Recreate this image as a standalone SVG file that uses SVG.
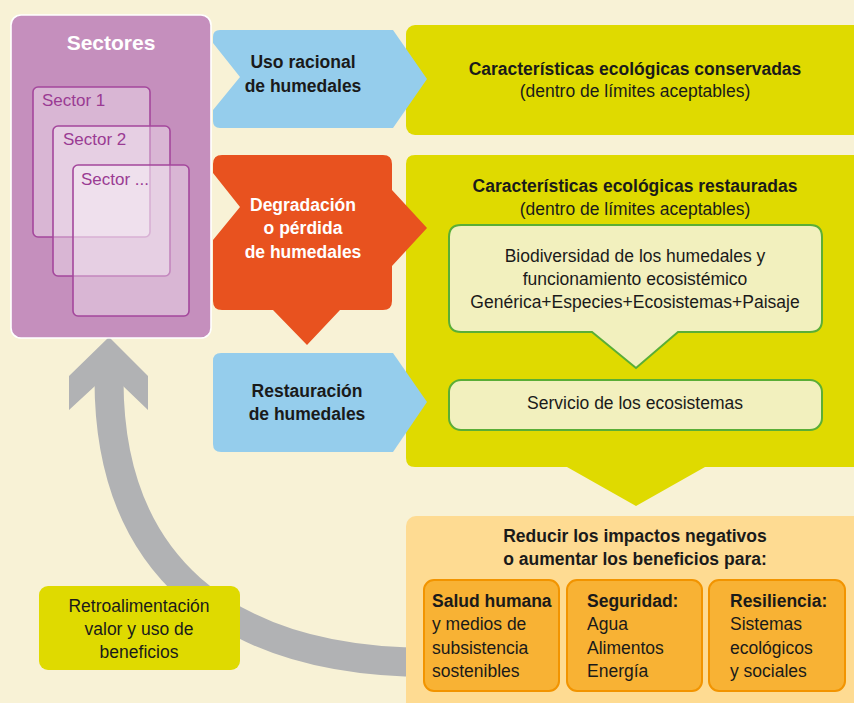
<svg xmlns="http://www.w3.org/2000/svg" width="854" height="703" viewBox="0 0 854 703">
<style>
text{font-family:"Liberation Sans",Arial,sans-serif;fill:#1a1a1a;font-size:17.5px}
.b{font-weight:bold}
.c{text-anchor:middle}
.sec{fill:#ffffff;fill-opacity:0.35;stroke:#A4479C;stroke-width:1.6}
.sect{fill:#9A3B93;font-size:17px}
.sub{fill:#F8B234;stroke:#F29400;stroke-width:2}
.inner{fill:#F2F0BE;stroke:#5AAE36;stroke-width:2}
.gr{fill:#DFDA00}
</style>
<rect x="0" y="0" width="854" height="703" fill="#F8F2D6"/>

<g id="connectors">
  <path d="M 109 380 C 109 560 220 662.5 430 662.5" fill="none" stroke="#B1B2B4" stroke-width="29"/>
  <polygon points="109,337 148,376 148,410 123,386 95,386 69,410 69,376" fill="#B1B2B4"/>
</g>

<g id="retroalimentacion">
  <rect x="39" y="586" width="201" height="84" rx="9" class="gr"/>
  <text x="139" y="612" class="c">Retroalimentación</text>
  <text x="139" y="635" class="c">valor y uso de</text>
  <text x="139" y="658" class="c">beneficios</text>
</g>

<g id="conservadas">
  <rect x="406" y="25" width="470" height="110" rx="9" class="gr"/>
  <text x="635" y="75" class="b c">Características ecológicas conservadas</text>
  <text x="635" y="97" class="c">(dentro de límites aceptables)</text>
</g>

<g id="restauradas">
  <path d="M 415 155 H 870 V 467 H 705 L 636 506 L 567 467 H 415 Q 406 467 406 458 V 164 Q 406 155 415 155 Z" class="gr"/>
  <text x="635" y="192" class="b c">Características ecológicas restauradas</text>
  <text x="635" y="215" class="c">(dentro de límites aceptables)</text>
</g>

<g id="sectores">
  <rect x="11" y="15" width="200" height="323" rx="10" fill="#C58FBD" stroke="#ffffff" stroke-width="1.6"/>
  <text x="111" y="50" class="b c" style="fill:#ffffff;font-size:21px">Sectores</text>
  <rect x="33" y="87" width="117" height="150" rx="5" class="sec"/>
  <text x="42" y="106" class="sect">Sector 1</text>
  <rect x="53" y="126" width="117" height="150" rx="5" class="sec"/>
  <text x="63" y="145" class="sect">Sector 2</text>
  <rect x="73" y="165" width="116" height="151" rx="5" class="sec"/>
  <text x="81" y="185" class="sect">Sector ...</text>
</g>

<g id="uso-racional">
  <path d="M 220 30 H 393 L 427 79 L 393 128 H 220 Q 213 128 213 121 V 110 L 240 77 L 213 43 V 37 Q 213 30 220 30 Z" fill="#95CDEC"/>
  <text x="303" y="68" class="b c">Uso racional</text>
  <text x="303" y="92" class="b c">de humedales</text>
</g>

<g id="degradacion">
  <path d="M 222 155 H 383 Q 392 155 392 164 V 190 L 427 228 L 392 266 V 301 Q 392 310 383 310 H 340 L 307 345 L 273 310 H 222 Q 213 310 213 301 V 240 L 240 207 L 213 173 V 164 Q 213 155 222 155 Z" fill="#E8521F"/>
  <text x="303" y="211" class="b c" style="fill:#ffffff">Degradación</text>
  <text x="303" y="234" class="b c" style="fill:#ffffff">o pérdida</text>
  <text x="303" y="258" class="b c" style="fill:#ffffff">de humedales</text>
</g>

<g id="restauracion">
  <path d="M 221 353 H 393 L 427 402 L 393 452 H 221 Q 213 452 213 444 V 361 Q 213 353 221 353 Z" fill="#95CDEC"/>
  <text x="307" y="397" class="b c">Restauración</text>
  <text x="307" y="420" class="b c">de humedales</text>
</g>

<g id="biodiversidad">
  <path d="M 461 225 H 810 Q 822 225 822 237 V 320 Q 822 332 810 332 H 678 L 636 368 L 592 332 H 461 Q 449 332 449 320 V 237 Q 449 225 461 225 Z" class="inner"/>
  <text x="635" y="262" class="c">Biodiversidad de los humedales y</text>
  <text x="635" y="285" class="c">funcionamiento ecosistémico</text>
  <text x="635" y="308" class="c">Genérica+Especies+Ecosistemas+Paisaje</text>
</g>

<g id="servicio">
  <rect x="449" y="380" width="373" height="50" rx="12" class="inner"/>
  <text x="635" y="409" class="c">Servicio de los ecosistemas</text>
</g>

<g id="reducir">
  <rect x="406" y="516" width="470" height="210" rx="10" fill="#FEDB92"/>
  <text x="635" y="542" class="b c">Reducir los impactos negativos</text>
  <text x="635" y="565" class="b c">o aumentar los beneficios para:</text>
</g>

<g id="salud">
  <rect x="424" y="580" width="135" height="111" rx="10" class="sub"/>
  <text x="432" y="607" class="b">Salud humana</text>
  <text x="432" y="630">y medios de</text>
  <text x="432" y="654">subsistencia</text>
  <text x="432" y="677">sostenibles</text>
</g>

<g id="seguridad">
  <rect x="567" y="580" width="135" height="111" rx="10" class="sub"/>
  <text x="587" y="607" class="b">Seguridad:</text>
  <text x="587" y="630">Agua</text>
  <text x="587" y="654">Alimentos</text>
  <text x="587" y="677">Energía</text>
</g>

<g id="resiliencia">
  <rect x="709" y="580" width="136" height="111" rx="10" class="sub"/>
  <text x="730" y="607" class="b">Resiliencia:</text>
  <text x="730" y="630">Sistemas</text>
  <text x="730" y="654">ecológicos</text>
  <text x="730" y="677">y sociales</text>
</g>
</svg>
